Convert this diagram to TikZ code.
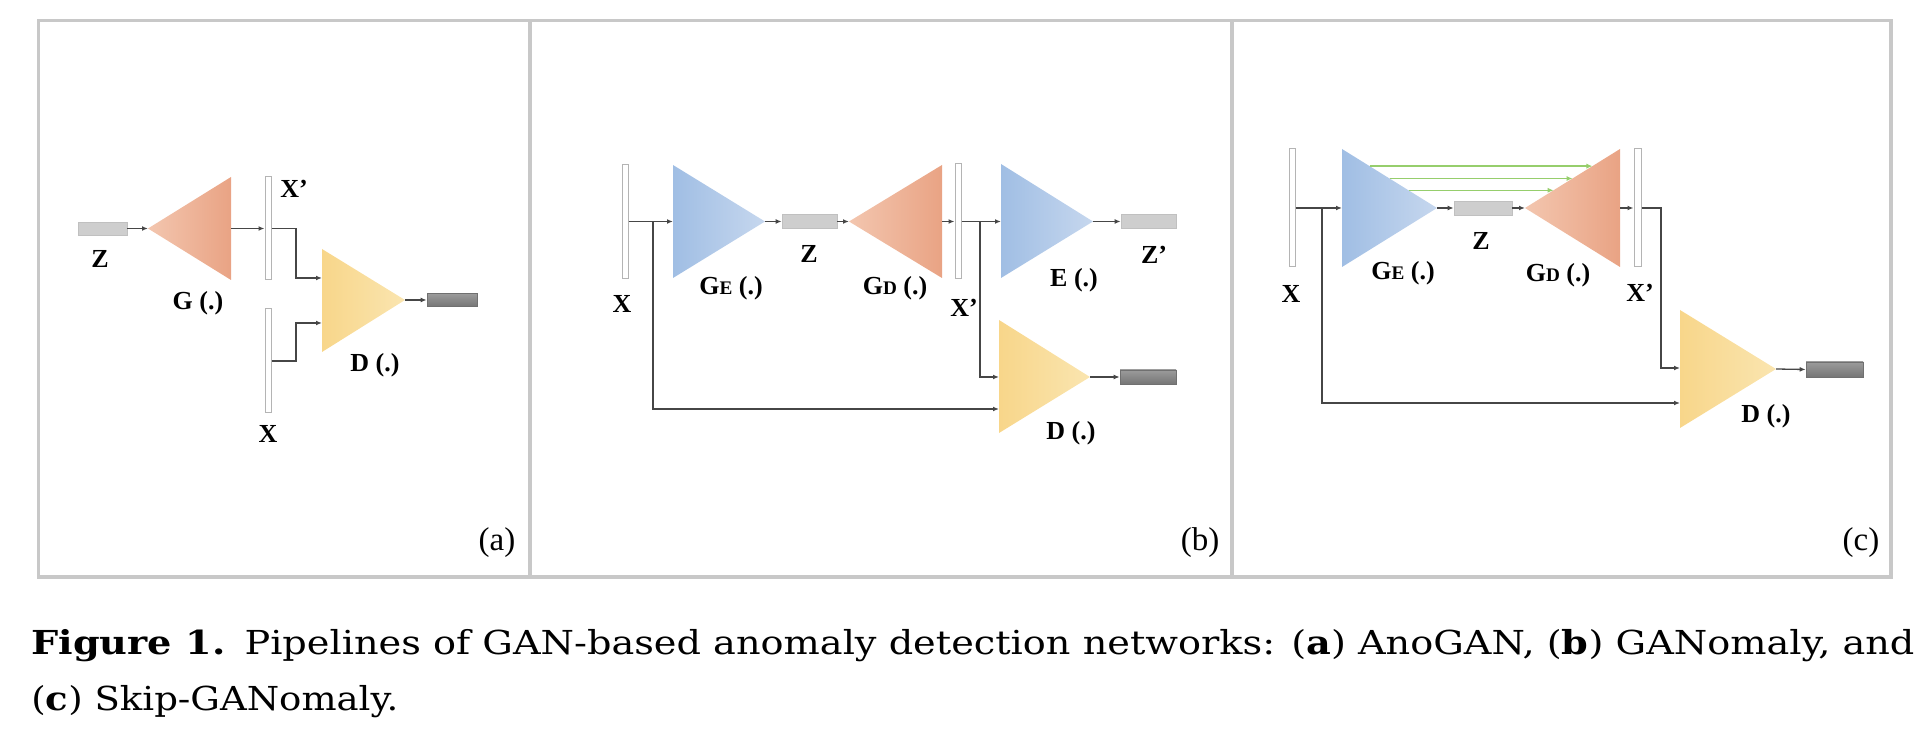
\documentclass[tikz,border=0pt]{standalone}
\usepackage{fontspec}
\usepackage{graphicx}
\setmainfont{Liberation Serif}
\newfontfamily\capfont{DejaVu Serif}
\usetikzlibrary{arrows.meta,calc}
\definecolor{framegray}{RGB}{200,200,200}
\definecolor{linegray}{RGB}{70,70,70}
\definecolor{bargray}{RGB}{180,180,180}
\definecolor{zfill}{RGB}{206,206,206}
\definecolor{zedge}{RGB}{192,192,192}
\definecolor{otop}{RGB}{155,155,155}
\definecolor{obot}{RGB}{118,118,118}
\definecolor{oedge}{RGB}{112,112,112}
\definecolor{orL}{RGB}{243,198,175}
\definecolor{orD}{RGB}{233,163,132}
\definecolor{blD}{RGB}{160,190,228}
\definecolor{blL}{RGB}{198,215,238}
\definecolor{yeD}{RGB}{248,214,138}
\definecolor{yeL}{RGB}{250,229,176}
\definecolor{skipgreen}{RGB}{150,206,108}
\newcommand\mysc[1]{{\fontsize{9.6}{11}\selectfont #1}}
\tikzset{
  conn/.style={draw=linegray, line width=0.65pt, -{Latex[length=3pt,width=2.4pt]}},
  skip/.style={draw=skipgreen, line width=0.75pt, -{Latex[length=3pt,width=2.6pt]}},
  vbar/.style={draw=bargray, fill=white, line width=0.5pt, inner sep=0pt, minimum width=3pt},
  zbar/.style={draw=zedge, fill=zfill, line width=0.3pt, inner sep=0pt, minimum width=27.5pt, minimum height=7pt},
  obar/.style={draw=oedge, top color=otop, bottom color=obot, line width=0.3pt, inner sep=0pt, minimum width=28pt, minimum height=7pt},
  lbl/.style={font=\bfseries\fontsize{13}{15}\selectfont, inner sep=0pt, anchor=base},
  plbl/.style={font=\fontsize{16.5}{19}\selectfont, inner sep=0pt, anchor=base},
  capt/.style={font=\capfont\fontsize{16.5}{20}\selectfont, inner sep=0pt, anchor=base west},
  frame/.style={draw=framegray, line width=1.8pt}
}
\begin{document}
\begin{tikzpicture}[x=0.5pt,y=-0.5pt]
\useasboundingbox (0,0) rectangle (1924,742);
% frame
\draw[frame] (38.5,20.5) rectangle (1891,577);
\draw[frame] (530,20.5) -- (530,577);
\draw[frame] (1232,20.5) -- (1232,577);

% ================= (a) =================
\coordinate (GaA) at (148,228.5);
\coordinate (GtA) at (231,177);
\coordinate (GlA) at (231,280);
\coordinate (GbA) at (231,228.5);
\shade[left color=orL,right color=orD] (GaA) -- (GtA) -- (GlA) -- cycle;
\coordinate (DtA) at (322,249);
\coordinate (DlA) at (322,352);
\coordinate (DpA) at (405,300);
\shade[left color=yeD,right color=yeL] (DtA) -- (DpA) -- (DlA) -- cycle;
\coordinate (Din1A) at (322,278);
\coordinate (Din2A) at (322,323);
\coordinate (jA) at (296,0);
\node[zbar, minimum width=24.5pt, minimum height=6.5pt] (zA) at (102.5,228.5) {};
\node[vbar, minimum height=51.5pt] (xpA) at (268,228.5) {};
\node[vbar, minimum height=52pt] (xA) at (268,361) {};
\node[obar, minimum width=25pt, minimum height=6.5pt] (oA) at (452,300) {};
\draw[conn] (zA.east) -- (GaA);
\draw[conn] (GbA) -- (xpA.west);
\draw[conn] (xpA.east) -- (xpA.east -| jA) |- (Din1A);
\draw[conn] (xA.east) -- (xA.east -| jA) |- (Din2A);
\draw[conn] (DpA) -- (oA.west);
\node[lbl] (lZA) at (100,268) {Z};
\node[lbl] (lGA) at (198,310) {G (.)};
\node[lbl] (lXpA) at (294,198) {X’};
\node[lbl] (lXA) at (268,443) {X};
\node[lbl] (lDA) at (375,372) {D (.)};
\node[plbl] (pa) at (497,551) {(a)};

% ================= (b) =================
\coordinate (GEtB) at (673,165);
\coordinate (GElB) at (673,278);
\coordinate (GEbB) at (673,221.5);
\coordinate (GEpB) at (765,221.5);
\shade[left color=blD,right color=blL] (GEtB) -- (GEpB) -- (GElB) -- cycle;
\coordinate (GDpB) at (849,221.5);
\coordinate (GDtB) at (942,165);
\coordinate (GDlB) at (942,278);
\coordinate (GDbB) at (942,221.5);
\shade[left color=orL,right color=orD] (GDpB) -- (GDtB) -- (GDlB) -- cycle;
\coordinate (EtB) at (1001,164);
\coordinate (ElB) at (1001,278);
\coordinate (EbB) at (1001,221.5);
\coordinate (EpB) at (1093,221.5);
\shade[left color=blD,right color=blL] (EtB) -- (EpB) -- (ElB) -- cycle;
\coordinate (DtB) at (999,320);
\coordinate (DlB) at (999,433);
\coordinate (DpB) at (1090,377);
\shade[left color=yeD,right color=yeL] (DtB) -- (DpB) -- (DlB) -- cycle;
\coordinate (Din1B) at (999,377);
\coordinate (Din2B) at (999,409);
\coordinate (jB1) at (653,221.5);
\coordinate (jB2) at (980,221.5);
\node[vbar, minimum height=57pt] (xB) at (625,221.5) {};
\node[zbar] (zB) at (809.5,221.5) {};
\node[vbar, minimum height=57.5pt] (xpB) at (958,221.5) {};
\node[zbar] (zpB) at (1148.5,221.5) {};
\node[obar] (oB) at (1148,377) {};
\draw[conn] (xB.east) -- (GEbB);
\draw[conn] (jB1) |- (Din2B);
\draw[conn] (GEpB) -- (zB.west);
\draw[conn] (zB.east) -- (GDpB);
\draw[conn] (GDbB) -- (xpB.west);
\draw[conn] (xpB.east) -- (EbB);
\draw[conn] (jB2) |- (Din1B);
\draw[conn] (EpB) -- (zpB.west);
\draw[conn] (DpB) -- (oB.west);
\node[lbl] (lXB) at (622,313) {X};
\node[lbl] (lGEB) at (731,295) {G\mysc{E} (.)};
\node[lbl] (lZB) at (809,263) {Z};
\node[lbl] (lGDB) at (895,295) {G\mysc{D} (.)};
\node[lbl] (lXpB) at (964,317) {X’};
\node[lbl] (lEB) at (1074,287) {E (.)};
\node[lbl] (lZpB) at (1154,264) {Z’};
\node[lbl] (lDB) at (1071,440) {D (.)};
\node[plbl] (pb) at (1200,551) {(b)};

% ================= (c) =================
\coordinate (GEtC) at (1342,149);
\coordinate (GElC) at (1342,267);
\coordinate (GEbC) at (1342,208);
\coordinate (GEpC) at (1437,208);
\shade[left color=blD,right color=blL] (GEtC) -- (GEpC) -- (GElC) -- cycle;
\coordinate (GDpC) at (1525,208);
\coordinate (GDtC) at (1620,149);
\coordinate (GDlC) at (1620,267);
\coordinate (GDbC) at (1620,208);
\shade[left color=orL,right color=orD] (GDpC) -- (GDtC) -- (GDlC) -- cycle;
\coordinate (DtC) at (1680,310);
\coordinate (DlC) at (1680,428);
\coordinate (DpC) at (1776,369);
\shade[left color=yeD,right color=yeL] (DtC) -- (DpC) -- (DlC) -- cycle;
\coordinate (Din1C) at (1680,368);
\coordinate (Din2C) at (1680,403);
\coordinate (jC1) at (1322,208);
\coordinate (jC2) at (1661,0);
\node[vbar, minimum height=59pt] (xC) at (1292,207.5) {};
\node[zbar, minimum width=29pt] (zC) at (1483,208) {};
\node[vbar, minimum width=3.5pt, minimum height=59pt] (xpC) at (1637.5,208) {};
\node[obar, minimum width=28.5pt, minimum height=7.5pt] (oC) at (1834.5,369.5) {};
\draw[conn] (xC.east |- GEbC) -- (GEbC);
\draw[conn] (jC1) |- (Din2C);
\draw[conn] (GEpC) -- (zC.west);
\draw[conn] (zC.east) -- (GDpC);
\draw[conn] (GDbC) -- (xpC.west);
\draw[conn] (xpC.east) -- (xpC.east -| jC2) |- (Din1C);
\draw[conn] (DpC) -- (oC.west);
% skip connections
\coordinate (s1a) at ($(GEtC)!0.29!(GEpC)$);
\coordinate (s2a) at ($(GEtC)!0.50!(GEpC)$);
\coordinate (s3a) at ($(GEtC)!0.70!(GEpC)$);
\coordinate (s1b) at ($(GDtC)!0.29!(GDpC)$);
\coordinate (s2b) at ($(GDtC)!0.50!(GDpC)$);
\coordinate (s3b) at ($(GDtC)!0.70!(GDpC)$);
\draw[skip] (s1a) -- (s1b);
\draw[skip] (s2a) -- (s2b);
\draw[skip] (s3a) -- (s3b);
\node[lbl] (lXC) at (1291,303) {X};
\node[lbl] (lGEC) at (1403,280) {G\mysc{E} (.)};
\node[lbl] (lZC) at (1481,250) {Z};
\node[lbl] (lGDC) at (1558,282) {G\mysc{D} (.)};
\node[lbl] (lXpC) at (1640,302) {X’};
\node[lbl] (lDC) at (1766,423) {D (.)};
\node[plbl] (pc) at (1861,551) {(c)};

% caption
\node[capt] (cap1) at (31,655) {\resizebox{941.5pt}{\height}{{\bfseries Figure 1.}\enspace Pipelines of GAN-based anomaly detection networks: ({\bfseries a}) AnoGAN, ({\bfseries b}) GANomaly, and}};
\node[capt] (cap2) at (31,711) {\resizebox{183.5pt}{\height}{({\bfseries c}) Skip-GANomaly.}};
\end{tikzpicture}
\end{document}
